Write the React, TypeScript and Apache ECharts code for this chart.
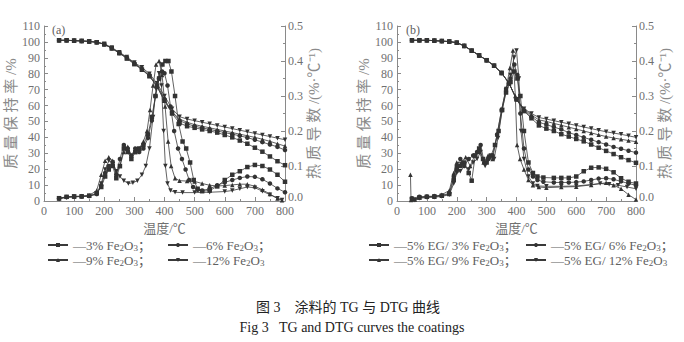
import React, { useEffect, useRef } from "react";
import * as echarts from "echarts";

// ---------- data ----------
const tgTemps = [50, 75, 100, 125, 150, 175, 200, 225, 250, 275, 300, 325, 350, 375, 400, 425, 450, 475, 500, 525, 550, 575, 600, 625, 650, 675, 700, 725, 750, 775, 800];

// Panel (a) TG (%)
const tgA3 = [101, 101, 100.8, 100.6, 100.3, 99.8, 98.5, 96, 93, 89.5, 86, 82.5, 78.5, 72, 63, 55, 49, 47, 46, 45, 44, 43, 41.5, 40, 38, 36, 33.5, 31, 28, 25, 22.5];
const tgA6 = [101, 101, 100.8, 100.6, 100.3, 99.8, 98.5, 96, 93, 90, 86.5, 83, 79, 73, 64, 56, 50.5, 48.5, 47, 46, 45, 44, 43, 42, 41, 39.8, 38.5, 37, 35.5, 34, 32];
const tgA9 = [101, 101, 100.8, 100.6, 100.3, 99.8, 98.6, 96, 93, 90, 86.5, 83, 78.5, 72, 63, 56, 51.5, 49.5, 48, 47, 46, 45, 44, 43, 42, 41, 40, 38.8, 37.5, 36, 34.5];
const tgA12 = [101, 101, 100.8, 100.6, 100.3, 99.8, 98.8, 96.5, 93.5, 90.5, 87, 84, 80, 74, 66, 58, 53, 51.5, 50.5, 49.5, 48.5, 47.5, 46.5, 45.5, 44.5, 43.5, 42.5, 41.5, 40.5, 39.5, 38.5];

// Panel (b) TG (%)
const tgB3 = [101, 101, 101, 100.8, 100.5, 100.2, 99.5, 97.5, 94.5, 91.5, 88.5, 85, 80.5, 74, 64, 56.5, 52, 47.5, 45.5, 44, 42, 40.5, 39, 37.5, 35.5, 33.5, 31.5, 29.5, 27.5, 25.7, 24];
const tgB6 = [101, 101, 101, 100.8, 100.5, 100.2, 99.5, 97.5, 94.5, 91.5, 88.5, 85, 80.5, 74, 64, 57, 53, 49.5, 48, 46.5, 45, 43, 41.5, 40, 38.5, 37, 35.5, 34, 32.8, 31.6, 30.4];
const tgB9 = [101, 101, 101, 100.8, 100.5, 100.2, 99.5, 97.5, 94.5, 91.5, 88.5, 85, 80.5, 74, 64, 57.5, 54, 51, 50, 48.8, 47.6, 46.4, 45.2, 44, 42.8, 41.6, 40.5, 39.6, 38.8, 38, 37.3];
const tgB12 = [101, 101, 101, 100.8, 100.5, 100.2, 99.5, 97.5, 94.5, 91.5, 88.5, 85, 80.5, 74, 64, 58, 55, 52.5, 51.5, 50.5, 49.5, 48.5, 47.5, 46.5, 45.5, 44.5, 43.5, 42.7, 41.9, 41, 40];

// Panel (a) DTG [°C, %/°C]
const dtgA3 = [[50, 0.008], [75, 0.012], [100, 0.013], [125, 0.013], [150, 0.015], [175, 0.022], [190, 0.04], [203, 0.07], [215, 0.09], [228, 0.1], [240, 0.065], [252, 0.1], [265, 0.15], [278, 0.14], [290, 0.12], [303, 0.14], [316, 0.15], [330, 0.16], [345, 0.19], [358, 0.24], [370, 0.3], [382, 0.35], [393, 0.39], [403, 0.4], [413, 0.4], [423, 0.37], [435, 0.3], [447, 0.22], [460, 0.17], [472, 0.15], [485, 0.11], [497, 0.06], [510, 0.035], [525, 0.028], [550, 0.03], [575, 0.042], [600, 0.06], [625, 0.075], [650, 0.085], [675, 0.097], [700, 0.103], [725, 0.1], [750, 0.09], [775, 0.075], [800, 0.055]];
const dtgA6 = [[50, 0.008], [75, 0.011], [100, 0.012], [125, 0.013], [150, 0.014], [175, 0.02], [190, 0.045], [203, 0.08], [215, 0.1], [228, 0.11], [240, 0.075], [252, 0.12], [265, 0.16], [278, 0.15], [290, 0.13], [303, 0.15], [316, 0.14], [330, 0.15], [345, 0.18], [358, 0.23], [370, 0.3], [382, 0.35], [392, 0.37], [400, 0.365], [410, 0.33], [420, 0.27], [432, 0.2], [445, 0.15], [458, 0.12], [470, 0.09], [482, 0.06], [495, 0.04], [510, 0.032], [525, 0.03], [550, 0.035], [575, 0.045], [600, 0.053], [625, 0.06], [650, 0.066], [675, 0.07], [700, 0.069], [725, 0.062], [750, 0.05], [775, 0.036], [800, 0.025]];
const dtgA9 = [[50, 0.007], [75, 0.012], [100, 0.013], [125, 0.014], [150, 0.016], [175, 0.03], [190, 0.075], [203, 0.115], [215, 0.125], [228, 0.115], [240, 0.08], [252, 0.1], [265, 0.14], [278, 0.155], [290, 0.13], [303, 0.14], [316, 0.15], [330, 0.17], [342, 0.2], [352, 0.26], [362, 0.33], [372, 0.39], [382, 0.4], [392, 0.36], [402, 0.27], [412, 0.17], [422, 0.1], [435, 0.065], [450, 0.058], [475, 0.057], [500, 0.056], [525, 0.05], [550, 0.045], [575, 0.043], [600, 0.044], [625, 0.046], [650, 0.048], [675, 0.048], [700, 0.042], [725, 0.032], [750, 0.02], [775, 0.007], [790, 0.002]];
const dtgA12 = [[50, 0.006], [75, 0.01], [100, 0.012], [125, 0.013], [150, 0.014], [175, 0.02], [190, 0.05], [203, 0.09], [215, 0.115], [228, 0.11], [240, 0.085], [252, 0.07], [265, 0.058], [280, 0.05], [295, 0.052], [310, 0.058], [325, 0.075], [338, 0.1], [350, 0.15], [362, 0.24], [372, 0.32], [382, 0.365], [390, 0.33], [397, 0.2], [403, 0.1], [410, 0.05], [420, 0.03], [435, 0.025], [460, 0.024], [500, 0.024], [550, 0.025], [600, 0.027], [625, 0.03], [650, 0.035], [675, 0.04], [700, 0.038], [725, 0.028], [750, 0.018], [775, 0.008], [790, 0.003]];

// Panel (b) DTG [°C, %/°C]
const dtgB3 = [[50, 0.006], [75, 0.01], [100, 0.012], [125, 0.013], [150, 0.015], [175, 0.02], [190, 0.06], [200, 0.09], [212, 0.1], [225, 0.11], [240, 0.08], [250, 0.058], [262, 0.13], [275, 0.15], [288, 0.12], [300, 0.11], [315, 0.13], [328, 0.16], [340, 0.2], [352, 0.26], [365, 0.31], [380, 0.34], [392, 0.37], [403, 0.35], [413, 0.3], [425, 0.2], [440, 0.11], [455, 0.08], [470, 0.07], [490, 0.067], [525, 0.066], [550, 0.066], [575, 0.066], [600, 0.07], [625, 0.085], [650, 0.095], [675, 0.096], [700, 0.092], [725, 0.082], [750, 0.065], [775, 0.055], [800, 0.05]];
const dtgB6 = [[50, 0.008], [75, 0.012], [100, 0.013], [125, 0.014], [150, 0.016], [175, 0.022], [190, 0.07], [200, 0.1], [212, 0.12], [225, 0.1], [240, 0.12], [255, 0.13], [268, 0.14], [280, 0.16], [292, 0.11], [305, 0.12], [320, 0.13], [335, 0.19], [350, 0.26], [365, 0.32], [380, 0.35], [393, 0.39], [403, 0.36], [413, 0.25], [425, 0.15], [440, 0.09], [455, 0.07], [470, 0.06], [490, 0.055], [525, 0.053], [550, 0.053], [575, 0.053], [600, 0.054], [625, 0.056], [650, 0.06], [675, 0.064], [700, 0.065], [725, 0.062], [750, 0.056], [775, 0.05], [800, 0.045]];
const dtgB9 = [[45, 0.075], [47, 0.003], [60, 0.004], [75, 0.01], [100, 0.012], [125, 0.012], [150, 0.018], [175, 0.03], [190, 0.08], [200, 0.11], [215, 0.11], [230, 0.125], [245, 0.1], [260, 0.13], [275, 0.14], [290, 0.11], [305, 0.13], [320, 0.12], [335, 0.19], [350, 0.26], [365, 0.32], [378, 0.38], [388, 0.43], [396, 0.3], [402, 0.16], [412, 0.12], [425, 0.09], [440, 0.06], [455, 0.045], [475, 0.04], [500, 0.038], [550, 0.04], [600, 0.041], [650, 0.046], [700, 0.052], [725, 0.045], [750, 0.035], [775, 0.018], [800, 0.004]];
const dtgB12 = [[50, 0.005], [60, 0.002], [75, 0.008], [100, 0.01], [125, 0.011], [150, 0.013], [175, 0.018], [190, 0.05], [200, 0.08], [212, 0.085], [225, 0.1], [240, 0.09], [255, 0.11], [268, 0.12], [280, 0.14], [295, 0.1], [310, 0.12], [325, 0.12], [338, 0.18], [352, 0.26], [366, 0.32], [380, 0.36], [392, 0.41], [400, 0.43], [408, 0.35], [415, 0.2], [425, 0.12], [440, 0.07], [455, 0.05], [470, 0.043], [500, 0.042], [550, 0.042], [600, 0.043], [650, 0.047], [680, 0.05], [710, 0.048], [740, 0.045], [770, 0.04], [800, 0.035]];

const namesA = ["3% Fe2O3", "6% Fe2O3", "9% Fe2O3", "12% Fe2O3"];
const namesB = ["5% EG/ 3% Fe2O3", "5% EG/ 6% Fe2O3", "5% EG/ 9% Fe2O3", "5% EG/ 12% Fe2O3"];
const xTicks = { min: 0, max: 800, interval: 100 };
const tgTicks = { min: 0, max: 110, interval: 10 };
const dtgTicks = { min: 0, max: 0.5, interval: 0.1 };

// ---------- styles ----------
const SERIF = "'Liberation Serif', 'Noto Sans CJK SC', serif";
const MIX = "'Liberation Serif', 'Noto Sans CJK SC', sans-serif";
const AX = "#8a8a8a";
const TXT = "#707070";
const LINE = "#3a3a3a";

const symbols = [
  { s: "rect", r: 0 },
  { s: "circle", r: 0 },
  { s: "triangle", r: 0 },
  { s: "triangle", r: 180 },
];

function legendText(name: string, last: boolean) {
  const t = name.replace("Fe2O3", "Fe{s|2}O{s|3}");
  return "—" + t + (last ? "" : "；");
}

export default function App() {
  const ref = useRef<HTMLDivElement>(null);
  useEffect(() => {
    document.body.style.margin = "0";
    if (!ref.current) return;
    const chart = echarts.init(ref.current, null, { renderer: "svg" });

    const mkX = (gi: number) => ({
      type: "value",
      gridIndex: gi,
      ...xTicks,
      name: "温度/℃",
      nameLocation: "middle",
      nameGap: 19,
      nameTextStyle: { fontFamily: MIX, fontSize: 13, color: TXT },
      axisLine: { show: true, onZero: false, lineStyle: { color: AX, width: 1 } },
      axisTick: { show: true, inside: true, length: 4, lineStyle: { color: AX } },
      minorTick: { show: true, splitNumber: 2, length: 2, lineStyle: { color: AX } },
      axisLabel: { fontFamily: SERIF, fontSize: 12, color: TXT, margin: 4 },
      splitLine: { show: false },
    });
    const mkYL = (gi: number, gap: number) => ({
      type: "value",
      gridIndex: gi,
      position: "left",
      ...tgTicks,
      name: "质 量 保 持 率 /%",
      nameLocation: "middle",
      nameRotate: 90,
      nameGap: gap,
      nameTextStyle: { fontFamily: MIX, fontSize: 15, color: "#8a8a8a", verticalAlign: "bottom" },
      axisLine: { show: true, onZero: false, lineStyle: { color: AX, width: 1 } },
      axisTick: { show: true, inside: true, length: 4, lineStyle: { color: AX } },
      minorTick: { show: true, splitNumber: 2, length: 2, lineStyle: { color: AX } },
      axisLabel: { fontFamily: SERIF, fontSize: 12, color: TXT, margin: 4 },
      splitLine: { show: false },
    });
    const mkYR = (gi: number, gap: number) => ({
      type: "value",
      gridIndex: gi,
      position: "right",
      ...dtgTicks,
      name: "热 质 导 数 /(%·℃⁻¹)",
      nameLocation: "middle",
      nameRotate: 90,
      nameGap: gap,
      nameTextStyle: { fontFamily: MIX, fontSize: 15, color: "#8a8a8a", verticalAlign: "top" },
      axisLine: { show: true, onZero: false, lineStyle: { color: AX, width: 1 } },
      axisTick: { show: true, inside: true, length: 4, lineStyle: { color: AX } },
      minorTick: { show: true, splitNumber: 2, length: 2, lineStyle: { color: AX } },
      axisLabel: {
        fontFamily: SERIF,
        fontSize: 12,
        color: TXT,
        margin: 3,
        formatter: (v: number) => (v === 0 ? "{z|0.0}" : v.toFixed(1)),
        rich: { z: { fontFamily: SERIF, fontSize: 12, color: TXT, padding: [0, 0, 8, 0] } },
      },
      splitLine: { show: false },
    });

    const mkSeries = (name: string, data: number[][], xi: number, yi: number, k: number) => ({
      type: "line",
      name,
      data,
      xAxisIndex: xi,
      yAxisIndex: yi,
      symbol: symbols[k].s,
      symbolRotate: symbols[k].r,
      symbolSize: 4.5,
      showSymbol: true,
      lineStyle: { color: LINE, width: 0.8 },
      itemStyle: { color: "#333" },
      emphasis: { disabled: true },
      z: 3,
    });

    const tgA = [tgA3, tgA6, tgA9, tgA12];
    const tgB = [tgB3, tgB6, tgB9, tgB12];
    const dtgA = [dtgA3, dtgA6, dtgA9, dtgA12];
    const dtgB = [dtgB3, dtgB6, dtgB9, dtgB12];
    const pair = (arr: number[]) => tgTemps.map((t, i) => [t, arr[i]]);

    const series: any[] = [];
    for (let k = 0; k < 4; k++) {
      series.push(mkSeries(namesA[k], pair(tgA[k]), 0, 0, k));
      series.push(mkSeries(namesA[k], dtgA[k], 0, 1, k));
      series.push(mkSeries(namesB[k], pair(tgB[k]), 1, 2, k));
      series.push(mkSeries(namesB[k], dtgB[k], 1, 3, k));
    }

    const legendBase = {
      orient: "horizontal",
      padding: 0,
      itemWidth: 20,
      itemHeight: 5,
      selectedMode: false,
      textStyle: {
        fontFamily: SERIF,
        fontSize: 13,
        color: "#606060",
        lineHeight: 16,
        rich: { s: { fontFamily: SERIF, fontSize: 9, color: "#606060", verticalAlign: "bottom", lineHeight: 16 } },
      },
    };
    const legPos = [
      { names: namesA, lefts: [47, 167, 47, 167] },
      { names: namesB, lefts: [368, 525, 368, 525] },
    ];
    const tops = [237, 237, 252, 252];
    const legends: any[] = [];
    legPos.forEach((p) => {
      p.names.forEach((n, k) => {
        legends.push({
          ...legendBase,
          left: p.lefts[k],
          top: tops[k],
          data: [n],
          formatter: (name: string) => legendText(name, k === 3),
        });
      });
    });

    chart.setOption({
      animation: false,
      backgroundColor: "#ffffff",
      grid: [
        { left: 44, top: 26, width: 241, height: 175 },
        { left: 397, top: 26, width: 239, height: 175 },
      ],
      xAxis: [mkX(0), mkX(1)],
      yAxis: [mkYL(0, 18), mkYR(0, 21), mkYL(1, 22), mkYR(1, 21)],
      legend: legends,
      series,
      graphic: [
        { type: "text", left: 52, top: 24, style: { text: "(a)", font: `12px ${SERIF}`, fill: "#606060" } },
        { type: "text", left: 406, top: 24, style: { text: "(b)", font: `12px ${SERIF}`, fill: "#606060" } },
        {
          type: "text",
          x: 348,
          y: 307,
          style: { text: "图 3　涂料的 TG 与 DTG 曲线", font: `14px ${MIX}`, fill: "#222", textAlign: "center", textVerticalAlign: "middle" },
        },
        {
          type: "text",
          x: 352,
          y: 327,
          style: { text: "Fig 3   TG and DTG curves the coatings", font: `14px ${SERIF}`, fill: "#222", textAlign: "center", textVerticalAlign: "middle" },
        },
      ],
    });
    return () => chart.dispose();
  }, []);
  return <div ref={ref} style={{ width: 684, height: 342 }} />;
}
